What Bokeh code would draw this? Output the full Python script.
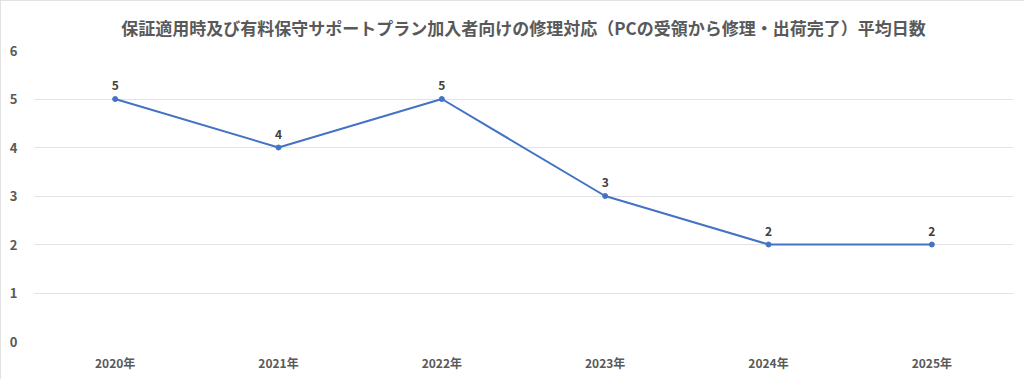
from bokeh.plotting import figure
from bokeh.models import ColumnDataSource, FactorRange, Range1d, FixedTicker, Title
from bokeh.core.properties import value
from bokeh.embed import file_html
from bokeh.resources import INLINE

years = ["2020年", "2021年", "2022年", "2023年", "2024年", "2025年"]
days = [5, 4, 5, 3, 2, 2]
y_ticks = [0, 1, 2, 3, 4, 5, 6]
title_text = "保証適用時及び有料保守サポートプラン加入者向けの修理対応（PCの受領から修理・出荷完了）平均日数"

FONT = "Noto Sans CJK JP"

src = ColumnDataSource(dict(x=years, y=days, lbl=[str(d) for d in days]))

p = figure(
    x_range=FactorRange(*years, range_padding=0),
    y_range=Range1d(0, 6),
    frame_width=980, frame_height=291,
    output_backend="svg", toolbar_location=None,
    min_border_left=33, min_border_right=11, min_border_top=50, min_border_bottom=38,
)
p.styles = {"outline": "1px solid #d9d9d9", "outline-offset": "-1px"}
p.title = None
t = Title(text=title_text, align="center", text_font=FONT, text_font_size="17px",
          text_font_style="bold", text_color="#595959", offset=0, standoff=22)
p.add_layout(t, "above")

p.line("x", "y", source=src, line_color="#4472C4", line_width=2)
p.scatter("x", "y", source=src, size=5, fill_color="#4472C4", line_color="#4472C4")
p.text("x", "y", text="lbl", source=src, y_offset=-9, text_align="center",
       text_baseline="bottom", text_font=value(FONT), text_font_size="12px",
       text_font_style="bold", text_color="#404040")

p.outline_line_color = None
p.xgrid.grid_line_color = None
p.ygrid.grid_line_color = "#e3e3e3"
p.ygrid.grid_line_width = 1
p.yaxis.ticker = FixedTicker(ticks=y_ticks)
for ax in (p.xaxis, p.yaxis):
    ax.axis_line_color = None
    ax.major_tick_line_color = None
    ax.minor_tick_line_color = None
    ax.major_label_text_font = FONT
    ax.major_label_text_font_size = "12px"
    ax.major_label_text_font_style = "bold"
    ax.major_label_text_color = "#595959"
p.yaxis.major_label_text_font_size = "13px"
p.yaxis.major_label_standoff = 10
p.xaxis.major_label_standoff = 6

open("out.html", "w").write(file_html(p, INLINE))
